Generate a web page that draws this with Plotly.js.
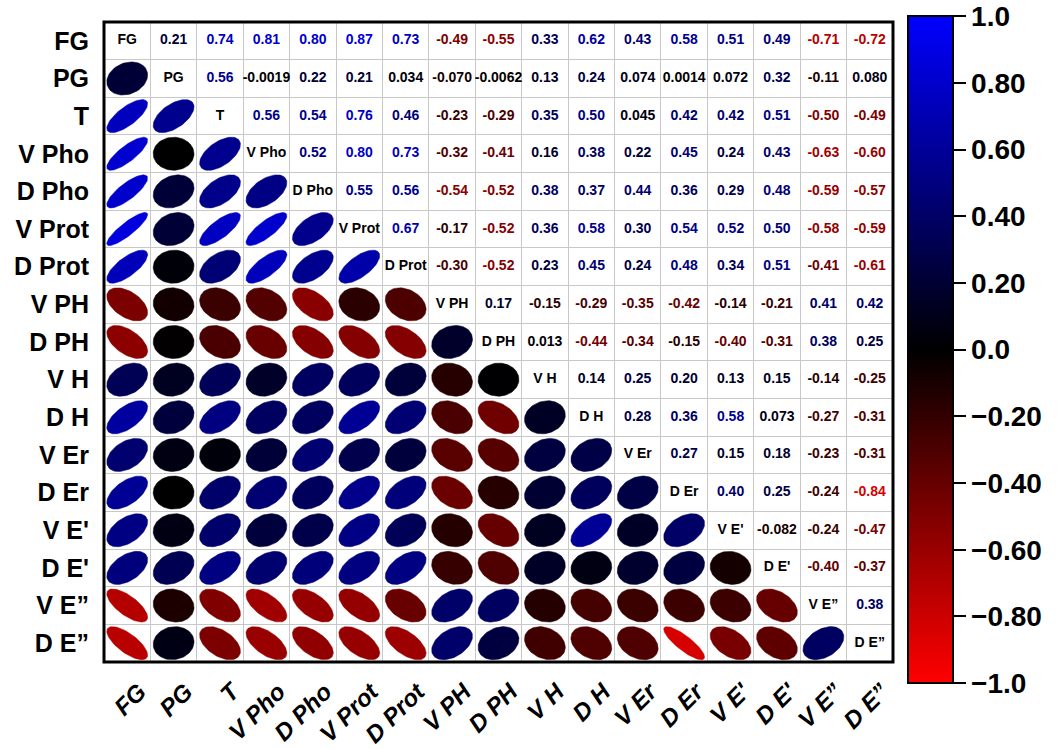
<!DOCTYPE html>
<html><head><meta charset="utf-8">
<script src="https://cdn.plot.ly/plotly-3.0.1.min.js"></script>
<style>body{margin:0;background:#fff}</style>
</head><body>
<div id="chart" style="width:1057px;height:749px"></div>
<script>
const variables = ["FG","PG","T","V Pho","D Pho","V Prot","D Prot","V PH","D PH","V H","D H","V Er","D Er","V E'","D E'","V E\u201d","D E\u201d"];

// upper-triangle correlations, row by row (columns to the right of the diagonal)
const rowFG    = [0.21, 0.74, 0.81, 0.80, 0.87, 0.73, -0.49, -0.55, 0.33, 0.62, 0.43, 0.58, 0.51, 0.49, -0.71, -0.72];
const rowPG    = [0.56, -0.0019, 0.22, 0.21, 0.034, -0.070, -0.0062, 0.13, 0.24, 0.074, 0.0014, 0.072, 0.32, -0.11, 0.080];
const rowT     = [0.56, 0.54, 0.76, 0.46, -0.23, -0.29, 0.35, 0.50, 0.045, 0.42, 0.42, 0.51, -0.50, -0.49];
const rowVPho  = [0.52, 0.80, 0.73, -0.32, -0.41, 0.16, 0.38, 0.22, 0.45, 0.24, 0.43, -0.63, -0.60];
const rowDPho  = [0.55, 0.56, -0.54, -0.52, 0.38, 0.37, 0.44, 0.36, 0.29, 0.48, -0.59, -0.57];
const rowVProt = [0.67, -0.17, -0.52, 0.36, 0.58, 0.30, 0.54, 0.52, 0.50, -0.58, -0.59];
const rowDProt = [-0.30, -0.52, 0.23, 0.45, 0.24, 0.48, 0.34, 0.51, -0.41, -0.61];
const rowVPH   = [0.17, -0.15, -0.29, -0.35, -0.42, -0.14, -0.21, 0.41, 0.42];
const rowDPH   = [0.013, -0.44, -0.34, -0.15, -0.40, -0.31, 0.38, 0.25];
const rowVH    = [0.14, 0.25, 0.20, 0.13, 0.15, -0.14, -0.25];
const rowDH    = [0.28, 0.36, 0.58, 0.073, -0.27, -0.31];
const rowVEr   = [0.27, 0.15, 0.18, -0.23, -0.31];
const rowDEr   = [0.40, 0.25, -0.24, -0.84];
const rowVE1   = [-0.082, -0.24, -0.47];
const rowDE1   = [-0.40, -0.37];
const rowVE2   = [0.38];
const rowDE2   = [];
const upperRows = [rowFG,rowPG,rowT,rowVPho,rowDPho,rowVProt,rowDProt,rowVPH,rowDPH,rowVH,rowDH,rowVEr,rowDEr,rowVE1,rowDE1,rowVE2,rowDE2];

const cbTickVals = [-1,-0.8,-0.6,-0.4,-0.2,0,0.2,0.4,0.6,0.8,1];
const cbTickText = ["\u22121.0","\u22120.80","\u22120.60","\u22120.40","\u22120.20","0.0","0.20","0.40","0.60","0.80","1.0"];

const n = variables.length;
const M = [];
for (let i = 0; i < n; i++) { M.push(new Array(n).fill(1)); }
for (let i = 0; i < n; i++) {
  for (let j = i + 1; j < n; j++) {
    const v = upperRows[i][j - i - 1];
    M[i][j] = v; M[j][i] = v;
  }
}
function col(v) {
  const a = Math.round(Math.min(1, Math.abs(v)) * 255);
  return v >= 0 ? `rgb(0,0,${a})` : `rgb(${a},0,0)`;
}
const FONT = "Liberation Sans, Arial, sans-serif";
const traces = [];
const S = 0.88;
// ellipses in lower triangle
for (let i = 0; i < n; i++) {
  for (let j = 0; j < i; j++) {
    const r = M[i][j];
    const d = Math.acos(r);
    const xs = [], ys = [];
    for (let k = 0; k <= 72; k++) {
      const t = 2 * Math.PI * k / 72;
      xs.push(j + 1 + S * Math.cos(t + d / 2) / 2);
      ys.push(i + 1 - S * Math.cos(t - d / 2) / 2);
    }
    traces.push({x: xs, y: ys, type: 'scatter', mode: 'lines', fill: 'toself',
      fillcolor: col(r), line: {color: col(r), width: 0.5}, hoverinfo: 'skip', showlegend: false});
  }
}
// numbers in upper triangle
const tx = [], ty = [], tt = [], tc = [];
for (let i = 0; i < n; i++) {
  for (let j = i + 1; j < n; j++) {
    tx.push(j + 1); ty.push(i + 1);
    tt.push(M[i][j].toPrecision(2)); tc.push(col(M[i][j]));
  }
}
traces.push({x: tx, y: ty, text: tt, type: 'scatter', mode: 'text',
  textfont: {family: FONT, size: 14, weight: 'bold', color: tc}, hoverinfo: 'skip', showlegend: false});
// diagonal labels
traces.push({x: variables.map((v, i) => i + 1), y: variables.map((v, i) => i + 1), text: variables,
  type: 'scatter', mode: 'text', textfont: {family: FONT, size: 14, weight: 'bold', color: '#000'},
  hoverinfo: 'skip', showlegend: false});
// colorbar carrier
traces.push({x: [1], y: [1], type: 'scatter', mode: 'markers', hoverinfo: 'skip', showlegend: false,
  marker: {size: 1, opacity: 0, color: [0], cmin: -1, cmax: 1,
    colorscale: [[0, 'rgb(255,0,0)'], [0.5, 'rgb(0,0,0)'], [1, 'rgb(0,0,255)']],
    showscale: true,
    colorbar: {x: 1.019, xanchor: 'left', xpad: 0, ypad: 0, thickness: 45,
      len: 1.042, lenmode: 'fraction', y: 0.488, yanchor: 'middle',
      outlinewidth: 2, outlinecolor: '#000', ticks: 'outside', ticklen: 12, tickwidth: 2, tickcolor: '#000',
      tickvals: cbTickVals, ticktext: cbTickText,
      tickfont: {family: FONT, size: 28, weight: 'bold', color: '#000'}}}});

const layout = {
  width: 1057, height: 749,
  margin: {l: 104, r: 164, t: 22, b: 87},
  paper_bgcolor: '#fff', plot_bgcolor: '#fff',
  xaxis: {range: [0.5, 17.5], tickvals: variables.map((v, i) => i + 1), ticktext: variables,
    tickangle: -45, showgrid: false, zeroline: false, ticks: '', ticklabelstandoff: 10, ticklabelshift: 12,
    tickfont: {family: FONT, size: 24, weight: 'bold', style: 'italic', color: '#000'},
    minor: {tick0: 0.5, dtick: 1, showgrid: true, gridcolor: '#c8c8c8', gridwidth: 1, ticks: ''}},
  yaxis: {range: [17.5, 0.5], tickvals: variables.map((v, i) => i + 1), ticktext: variables,
    showgrid: false, zeroline: false, ticks: '', ticklabelstandoff: 14,
    tickfont: {family: FONT, size: 25, weight: 'bold', color: '#000'},
    minor: {tick0: 0.5, dtick: 1, showgrid: true, gridcolor: '#c8c8c8', gridwidth: 1, ticks: ''}},
  shapes: [{type: 'rect', xref: 'paper', yref: 'paper', x0: 0, x1: 1, y0: 0, y1: 1,
    line: {color: '#000', width: 3}}],
  showlegend: false
};
Plotly.newPlot('chart', traces, layout, {displayModeBar: false, staticPlot: true});
</script>
</body></html>
